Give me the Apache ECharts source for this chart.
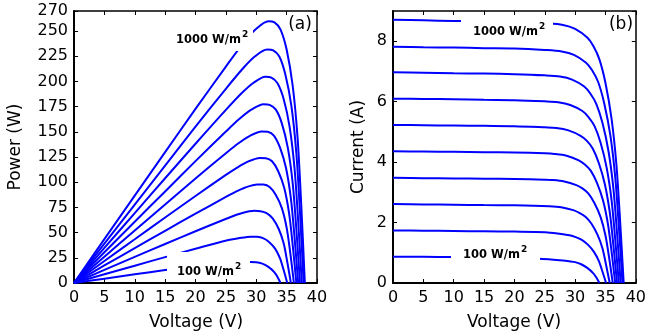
<!DOCTYPE html>
<html>
<head>
<meta charset="utf-8">
<script src="https://cdn.jsdelivr.net/npm/echarts@6/dist/echarts.min.js"></script>
<style>
html,body{margin:0;padding:0;background:#fff;}
#chart{width:649px;height:336px;}
</style>
</head>
<body>
<div id="chart"></div>
<script>
// Axis ranges [min, max, interval]
const voltageRange = [0, 40, 5];
const powerRange = [0, 270, 25];
const currentRange = [0, 9, 2];
const irradianceLabels = ['1000', '100'];
const panelLabels = ['(a)', '(b)'];

// I-V curves: [voltage (V), current (A)]
const iv100 = [[0,0.87],[5,0.865],[10,0.86],[15,0.85],[20,0.83],[24,0.80],[26,0.78],[28,0.745],[29,0.72],[30,0.69],[31,0.62],[32,0.50],[33,0.32],[33.5,0.18],[34,0]];
const iv200 = [[0,1.74],[5,1.73],[10,1.72],[15,1.71],[20,1.70],[25.1,1.68],[27.1,1.64],[29.1,1.58],[30.1,1.52],[31.1,1.43],[32.1,1.27],[33.1,1.03],[33.9,0.73],[34.5,0.38],[35.1,0]];
const iv300 = [[0,2.61],[5,2.60],[10,2.59],[15,2.58],[20,2.57],[25.7,2.54],[27.7,2.51],[29.7,2.41],[30.7,2.32],[31.7,2.19],[32.7,1.96],[33.7,1.59],[34.5,1.15],[35.1,0.60],[35.7,0]];
const iv400 = [[0,3.48],[5,3.47],[10,3.46],[15,3.45],[20,3.44],[25,3.42],[26.2,3.41],[28.2,3.36],[30.2,3.24],[31.2,3.13],[32.2,2.96],[33.2,2.64],[34.2,2.18],[35.0,1.57],[35.6,0.84],[36.2,0]];
const iv500 = [[0,4.36],[5,4.35],[10,4.34],[15,4.33],[20,4.32],[25,4.29],[26.6,4.27],[28.6,4.21],[30.6,4.06],[31.6,3.92],[32.6,3.71],[33.6,3.31],[34.6,2.73],[35.4,1.96],[36.0,1.05],[36.6,0]];
const iv600 = [[0,5.23],[5,5.22],[10,5.21],[15,5.20],[20,5.19],[25,5.15],[26.9,5.13],[28.9,5.05],[30.9,4.87],[31.9,4.71],[32.9,4.45],[33.9,3.97],[34.9,3.27],[35.7,2.35],[36.3,1.26],[36.9,0]];
const iv700 = [[0,6.10],[5,6.09],[10,6.08],[15,6.06],[20,6.05],[25,6.01],[27.2,5.98],[29.2,5.89],[31.2,5.69],[32.2,5.49],[33.2,5.19],[34.2,4.64],[35.2,3.81],[36.0,2.75],[36.6,1.46],[37.2,0]];
const iv800 = [[0,6.97],[5,6.96],[10,6.94],[15,6.93],[20,6.91],[25,6.87],[27.5,6.83],[29.5,6.73],[31.5,6.50],[32.5,6.27],[33.5,5.92],[34.5,5.30],[35.5,4.36],[36.3,3.14],[36.9,1.67],[37.5,0]];
const iv900 = [[0,7.82],[5,7.80],[10,7.79],[15,7.77],[20,7.76],[25,7.71],[27.8,7.66],[29.8,7.55],[31.8,7.29],[32.8,7.04],[33.8,6.65],[34.8,5.94],[35.8,4.89],[36.6,3.52],[37.2,1.88],[37.8,0]];
const iv1000 = [[0,8.71],[5,8.69],[10,8.67],[15,8.66],[20,8.64],[25,8.59],[28,8.54],[30,8.41],[32,8.12],[33,7.84],[34,7.40],[35,6.62],[36,5.44],[36.8,3.92],[37.4,2.09],[38,0]];

// P-V curves: [voltage (V), power (W)]
const pv100 = [[0,0],[5,4.3],[10,8.6],[15,12.8],[20,16.6],[24,19.2],[26,20.3],[28,20.9],[29,20.9],[30,20.7],[31,19.2],[32,16.0],[33,10.6],[33.5,6.0],[34,0]];
const pv200 = [[0,0],[5,8.65],[10,17.2],[15,25.7],[20,34.0],[25.1,42.2],[27.1,44.4],[29.1,46.0],[30.1,45.8],[31.1,44.5],[32.1,40.8],[33.1,34.1],[33.9,24.7],[34.5,13.1],[35.1,0]];
const pv300 = [[0,0],[5,13.0],[10,25.9],[15,38.7],[20,51.4],[25.7,65.3],[27.7,69.5],[29.7,71.6],[30.7,71.2],[31.7,69.4],[32.7,64.1],[33.7,53.6],[34.5,39.7],[35.1,21.1],[35.7,0]];
const pv400 = [[0,0],[5,17.4],[10,34.6],[15,51.8],[20,68.8],[25,85.5],[26.2,89.3],[28.2,94.8],[30.2,97.8],[31.2,97.7],[32.2,95.3],[33.2,87.6],[34.2,74.6],[35.0,55.0],[35.6,29.9],[36.2,0]];
const pv500 = [[0,0],[5,21.8],[10,43.4],[15,65.0],[20,86.4],[25,107.3],[26.6,113.6],[28.6,120.4],[30.6,124.2],[31.6,123.9],[32.6,120.9],[33.6,111.2],[34.6,94.5],[35.4,69.4],[36.0,37.8],[36.6,0]];
const pv600 = [[0,0],[5,26.1],[10,52.1],[15,78.0],[20,103.8],[25,128.8],[26.9,138.0],[28.9,145.9],[30.9,150.5],[31.9,150.2],[32.9,146.4],[33.9,134.6],[34.9,114.1],[35.7,83.9],[36.3,45.7],[36.9,0]];
const pv700 = [[0,0],[5,30.5],[10,60.8],[15,90.9],[20,121.0],[25,150.3],[27.2,162.7],[29.2,172.0],[31.2,177.5],[32.2,176.8],[33.2,172.3],[34.2,158.7],[35.2,134.1],[36.0,99.0],[36.6,53.4],[37.2,0]];
const pv800 = [[0,0],[5,34.8],[10,69.4],[15,104.0],[20,138.2],[25,171.8],[27.5,187.8],[29.5,198.5],[31.5,204.8],[32.5,203.8],[33.5,198.3],[34.5,182.9],[35.5,154.8],[36.3,114.0],[36.9,61.6],[37.5,0]];
const pv900 = [[0,0],[5,39.0],[10,77.9],[15,116.6],[20,155.2],[25,192.8],[27.8,212.9],[29.8,225.0],[31.8,231.8],[32.8,230.9],[33.8,224.8],[34.8,206.7],[35.8,175.1],[36.6,128.8],[37.2,69.9],[37.8,0]];
const pv1000 = [[0,0],[5,43.5],[10,86.7],[15,129.9],[20,172.8],[25,214.8],[28,239.1],[30,252.3],[32,259.8],[33,258.7],[34,251.6],[35,231.7],[36,195.8],[36.8,144.3],[37.4,78.2],[38,0]];

const pvCurves = [pv100, pv200, pv300, pv400, pv500, pv600, pv700, pv800, pv900, pv1000];
const ivCurves = [iv100, iv200, iv300, iv400, iv500, iv600, iv700, iv800, iv900, iv1000];

const FONT = 'DejaVu Sans';
const BLUE = '#0000ff';

function xAx(gridIndex, mirror) {
  return {
    type: 'value', gridIndex: gridIndex, position: mirror ? 'top' : 'bottom',
    min: voltageRange[0], max: voltageRange[1], interval: voltageRange[2],
    axisLine: {show: true, onZero: false, lineStyle: {color: '#000', width: mirror ? 1.5 : 2}},
    axisTick: {show: true, inside: true, length: 4, lineStyle: {color: '#000', width: 1}},
    axisLabel: {show: !mirror, color: '#000', fontFamily: FONT, fontSize: 16, margin: 7},
    splitLine: {show: false}
  };
}
function yAx(gridIndex, range, mirror, showMax) {
  return {
    type: 'value', gridIndex: gridIndex, position: mirror ? 'right' : 'left',
    min: range[0], max: range[1], interval: range[2],
    axisLine: {show: true, onZero: false, lineStyle: {color: '#000', width: mirror ? 1.5 : 2}},
    axisTick: {show: true, inside: true, length: 4, lineStyle: {color: '#000', width: 1}},
    axisLabel: {show: !mirror, color: '#000', fontFamily: FONT, fontSize: 16, margin: 6, showMaxLabel: showMax, showMinLabel: true},
    splitLine: {show: false}
  };
}

const series = [];
pvCurves.forEach(function (d) {
  series.push({type: 'line', xAxisIndex: 0, yAxisIndex: 0, data: d, showSymbol: false, smooth: 0.3,
    lineStyle: {color: BLUE, width: 2}, silent: true});
});
ivCurves.forEach(function (d) {
  series.push({type: 'line', xAxisIndex: 2, yAxisIndex: 2, data: d, showSymbol: false, smooth: 0.3,
    lineStyle: {color: BLUE, width: 2}, silent: true});
});

function box(x, y, w, h) {
  return {type: 'rect', z: 50, shape: {x: x, y: y, width: w, height: h}, style: {fill: '#fff'}, silent: true};
}
function label(txt, x, y, opts) {
  return {type: 'text', z: 60, x: x, y: y, rotation: (opts && opts.rot) || 0,
    style: {text: txt, fill: '#000', font: (opts && opts.font) || ('17px ' + FONT),
      align: (opts && opts.align) || 'center', verticalAlign: 'middle'}, silent: true};
}
function irrLabel(value, x, y) {
  return {type: 'text', z: 60, x: x, y: y,
    style: {
      text: '{m|' + value + ' W/m}{s|2}',
      align: 'left', verticalAlign: 'middle', fill: '#000',
      rich: {
        m: {fontFamily: FONT, fontWeight: 'bold', fontSize: 11.5, fill: '#000', lineHeight: 16, verticalAlign: 'bottom'},
        s: {fontFamily: FONT, fontWeight: 'bold', fontSize: 9, fill: '#000', lineHeight: 16, verticalAlign: 'top', padding: [0, 0, 0, 1]}
      }
    }, silent: true};
}

const option = {
  animation: false,
  backgroundColor: '#fff',
  grid: [
    {left: 74, top: 11, width: 243, height: 272},
    {left: 393, top: 11, width: 244, height: 272}
  ],
  xAxis: [xAx(0, false), xAx(0, true), xAx(1, false), xAx(1, true)],
  yAxis: [yAx(0, powerRange, false, true), yAx(0, powerRange, true, true),
          yAx(1, currentRange, false, false), yAx(1, currentRange, true, false)],
  series: series,
  graphic: {
    elements: [
      box(170, 27, 83, 24),
      irrLabel(irradianceLabels[0], 176, 38),
      box(167, 252, 83, 26),
      irrLabel(irradianceLabels[1], 177, 270),
      box(461, 19, 92, 23),
      irrLabel(irradianceLabels[0], 473, 30),
      box(451, 241, 89, 27),
      irrLabel(irradianceLabels[1], 463, 253),
      label(panelLabels[0], 300, 25),
      label(panelLabels[1], 621, 25),
      label('Power (W)', 16, 147, {rot: Math.PI / 2}),
      label('Current (A)', 359, 147, {rot: Math.PI / 2}),
      label('Voltage (V)', 196, 323),
      label('Voltage (V)', 514, 323)
    ]
  }
};

const chart = echarts.init(document.getElementById('chart'), null, {renderer: 'canvas'});
chart.setOption(option);
</script>
</body>
</html>
